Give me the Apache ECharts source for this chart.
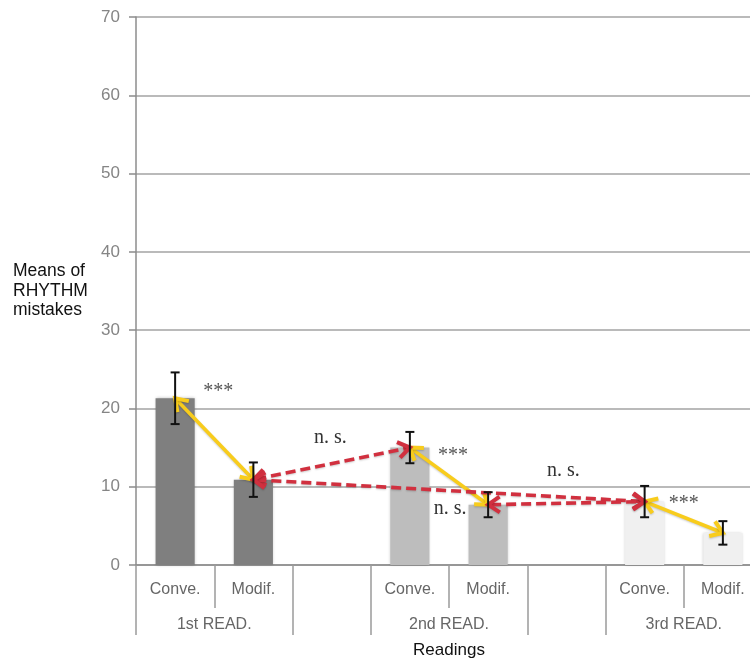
<!DOCTYPE html>
<html>
<head>
<meta charset="utf-8">
<script src="https://cdn.jsdelivr.net/npm/echarts@6/dist/echarts.min.js"></script>
<style>
  html, body { margin: 0; padding: 0; background: #fff; }
  #chart { width: 750px; height: 662px; }
</style>
</head>
<body>
<div id="chart"></div>
<script>
// ---- data ----
const readings = ['1st READ.', '2nd READ.', '3rd READ.'];
const methods = ['Conve.', 'Modif.'];
const conveMeans = [21.3, 15.0, 8.1];
const conveErrors = [3.3, 2.0, 2.0];
const modifMeans = [10.9, 7.7, 4.1];
const modifErrors = [2.2, 1.6, 1.5];
const yMin = 0, yMax = 70, yStep = 10;

// pairwise comparisons: [reading, method] -> [reading, method], significance
const comparisons = [
  { from: [0, 0], to: [0, 1], test: '***' },
  { from: [1, 0], to: [1, 1], test: '***' },
  { from: [2, 0], to: [2, 1], test: '***' },
  { from: [0, 1], to: [1, 0], test: 'n. s.' },
  { from: [0, 1], to: [2, 0], test: 'n. s.' },
  { from: [1, 1], to: [2, 0], test: 'n. s.' }
];

// ---- derived layout of the category slots ----
const barColors = ['#7f7f7f', '#bdbdbd', '#f0f0f0'];
const categories = [];
const barData = [];
const errData = [];
const slotOf = (r, m) => r * 3 + m;
readings.forEach((r, ri) => {
  [conveMeans, modifMeans].forEach((means, mi) => {
    const err = mi === 0 ? conveErrors : modifErrors;
    categories.push(methods[mi]);
    barData.push({ value: means[ri], itemStyle: { color: barColors[ri] } });
    errData.push([slotOf(ri, mi), means[ri] - err[ri], means[ri] + err[ri]]);
  });
  if (ri < readings.length - 1) { categories.push(''); barData.push(null); }
});
const meanAt = (r, m) => (m === 0 ? conveMeans : modifMeans)[r];

// group axis: one entry per slot boundary, label at the middle of each reading
const groupAxis = new Array(categories.length + 1).fill('');
const groupTicks = [];
readings.forEach((r, ri) => {
  groupAxis[ri * 3 + 1] = r;
  groupTicks.push(ri * 3, ri * 3 + 2);
});

const compData = comparisons.map(c => [
  slotOf(c.from[0], c.from[1]), meanAt(c.from[0], c.from[1]),
  slotOf(c.to[0], c.to[1]), meanAt(c.to[0], c.to[1])
]);

// ---- drawing helpers ----
const styleSig = { stroke: '#f8cc1c', lineWidth: 3.6, dash: null, text: '#555' };
const styleNs = { stroke: '#d1303f', lineWidth: 3.6, dash: [10, 5], text: '#333' };
// where each significance label sits, relative to the arrow's start point
const labelOffsets = [[43, -7], [43, 8], [39, 2], [77, -42], [310, -9], [-38, 4]];

function chevron(tip, ux, uy, st) {
  const L = 14, a = 0.6;
  const c = Math.cos(a), s = Math.sin(a);
  const r1 = [ux * c - uy * s, ux * s + uy * c];
  const r2 = [ux * c + uy * s, -ux * s + uy * c];
  return {
    type: 'polyline',
    shape: { points: [[tip[0] + r1[0] * L, tip[1] + r1[1] * L], tip, [tip[0] + r2[0] * L, tip[1] + r2[1] * L]] },
    style: { stroke: st.stroke, lineWidth: st.lineWidth + 0.4, fill: null, lineJoin: 'miter', lineCap: 'butt',
             shadowBlur: 2, shadowColor: 'rgba(0,0,0,0.2)', shadowOffsetY: 1 }
  };
}

function renderComparison(params, api) {
  const p1 = api.coord([api.value(0), api.value(1)]);
  const p2 = api.coord([api.value(2), api.value(3)]);
  const c = comparisons[params.dataIndex];
  const st = c.test === '***' ? styleSig : styleNs;
  const dx = p2[0] - p1[0], dy = p2[1] - p1[1];
  const len = Math.hypot(dx, dy);
  const ux = dx / len, uy = dy / len;
  const off = labelOffsets[params.dataIndex];
  return {
    type: 'group',
    children: [
      {
        type: 'line',
        shape: { x1: p1[0] + ux * 3, y1: p1[1] + uy * 3, x2: p2[0] - ux * 3, y2: p2[1] - uy * 3 },
        style: { stroke: st.stroke, lineWidth: st.lineWidth, lineDash: st.dash, lineCap: 'butt',
                 shadowBlur: 2, shadowColor: 'rgba(0,0,0,0.2)', shadowOffsetY: 1 }
      },
      chevron(p1, ux, uy, st),
      chevron(p2, -ux, -uy, st),
      {
        type: 'text',
        style: {
          text: c.test, x: p1[0] + off[0], y: p1[1] + off[1],
          align: 'center', verticalAlign: 'middle',
          font: '20px "Liberation Serif", "Times New Roman", serif', fill: st.text
        }
      }
    ]
  };
}

function renderError(params, api) {
  const x = api.coord([api.value(0), api.value(1)])[0];
  const lo = api.coord([api.value(0), api.value(1)])[1];
  const hi = api.coord([api.value(0), api.value(2)])[1];
  const cap = 4.5;
  const st = { stroke: '#111', lineWidth: 2 };
  return {
    type: 'group',
    children: [
      { type: 'line', shape: { x1: x, y1: lo, x2: x, y2: hi }, style: st },
      { type: 'line', shape: { x1: x - cap, y1: lo, x2: x + cap, y2: lo }, style: st },
      { type: 'line', shape: { x1: x - cap, y1: hi, x2: x + cap, y2: hi }, style: st }
    ]
  };
}

const sansFont = '"Helvetica Neue", Helvetica, "Liberation Sans", Arial, sans-serif';

const chart = echarts.init(document.getElementById('chart'), null, { renderer: 'canvas' });
chart.setOption({
  animation: false,
  backgroundColor: '#fff',
  grid: { left: 136, right: -12, top: 17, bottom: 97, containLabel: false, outerBoundsMode: 'none' },
  xAxis: [
    {
      type: 'category',
      data: categories,
      position: 'bottom',
      axisLine: { lineStyle: { color: '#8c8c8c', width: 1.5 } },
      axisTick: { show: true, interval: 0, length: 43, lineStyle: { color: '#9a9a9a', width: 1.5 } },
      axisLabel: { interval: 0, margin: 17, color: '#666', fontSize: 16, fontFamily: sansFont, fontWeight: 300 },
      name: 'Readings',
      nameLocation: 'middle',
      nameGap: 77,
      nameTextStyle: { color: '#111', fontSize: 17, fontFamily: sansFont }
    },
    {
      type: 'category',
      data: groupAxis,
      position: 'bottom',
      offset: 43,
      boundaryGap: false,
      axisLine: { show: false },
      axisTick: { show: true, length: 27, interval: (i) => groupTicks.includes(i) || i === groupAxis.length - 1,
                  lineStyle: { color: '#9a9a9a', width: 1.5 } },
      axisLabel: { interval: 0, margin: 9, color: '#666', fontSize: 16, fontFamily: sansFont, fontWeight: 300 }
    }
  ],
  yAxis: {
    type: 'value',
    min: yMin, max: yMax, interval: yStep,
    axisLine: { show: true, lineStyle: { color: '#8c8c8c', width: 1.5 } },
    axisTick: { show: true, length: 7, lineStyle: { color: '#8c8c8c', width: 1.5 } },
    axisLabel: { margin: 16, color: '#858585', fontSize: 17, fontFamily: sansFont, fontWeight: 300 },
    splitLine: { show: true, lineStyle: { color: '#a3a3a3', width: 1.5 } },
    name: 'Means of\nRHYTHM\nmistakes',
    nameLocation: 'middle',
    nameRotate: 0,
    nameGap: 123,
    nameTextStyle: { align: 'left', color: '#111', fontSize: 17.5, lineHeight: 19.5, fontFamily: sansFont }
  },
  series: [
    {
      type: 'bar',
      data: barData,
      barWidth: '50%',
      itemStyle: { shadowBlur: 3, shadowColor: 'rgba(0,0,0,0.25)' },
      z: 2
    },
    {
      type: 'custom',
      coordinateSystem: 'cartesian2d',
      data: compData,
      encode: { x: [0, 2], y: [1, 3] },
      renderItem: renderComparison,
      z: 4
    },
    {
      type: 'custom',
      coordinateSystem: 'cartesian2d',
      data: errData,
      encode: { x: 0, y: [1, 2] },
      renderItem: renderError,
      z: 5
    }
  ]
});
</script>
</body>
</html>
